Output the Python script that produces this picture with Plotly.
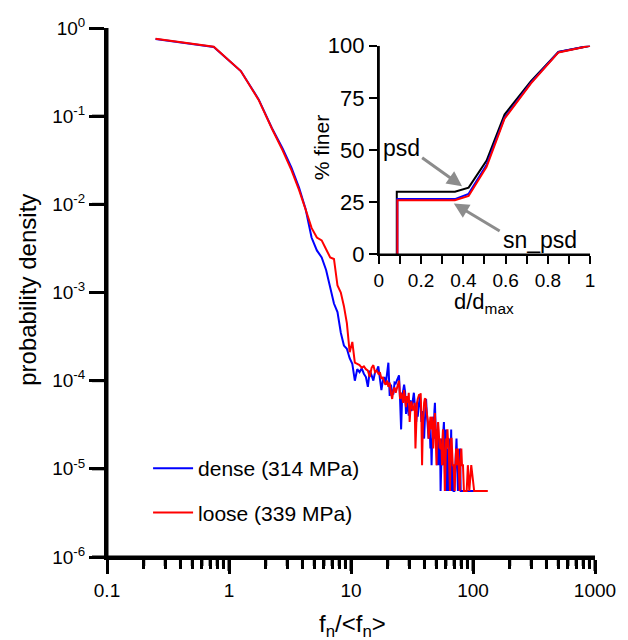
import plotly.graph_objects as go

# ---------------- main histogram data (probability density vs f_n/<f_n>) ----------------
dense_x = [0.25, 0.75, 1.25, 1.75, 2.25, 2.75, 3.25, 3.75, 4.25, 4.75, 5.25, 5.75, 6.25, 6.75,
           7.25, 7.75, 8.25, 8.75, 9.25, 9.75,
           10.25, 10.75, 11.25, 11.75, 12.25, 12.75, 13.25, 13.75, 14.25, 14.75, 15.25, 15.75,
           16.25, 16.75, 17.25, 17.75, 18.25, 18.75, 19.25, 19.75, 20.25, 20.75, 21.25, 21.75,
           22.25, 22.75, 23.25, 23.75, 24.25, 24.75, 25.25, 25.75, 26.25, 26.75, 27.25, 27.75,
           28.25, 28.75, 29.25, 29.75, 30.25, 30.75, 31.25, 31.75, 32.25, 32.75, 33.25, 33.75,
           34.25, 34.75, 35.25, 35.75, 36.25, 36.75, 37.25, 37.75, 38.25, 38.75, 39.25, 39.75,
           40.25, 40.75, 41.25, 41.75, 42.25, 42.75, 43.25, 43.75, 44.25, 44.75, 45.25, 45.75,
           46.25, 46.75, 47.25, 47.75, 48.25, 48.75, 49.25, 49.75, 50.25, 50.75, 51.25, 51.75,
           52.25, 52.75, 53.25, 53.75, 54.25, 54.75, 55.25, 55.75, 56.25, 56.75, 57.25, 57.75,
           58.25, 58.75, 59.25, 59.75, 60.25, 60.75, 61.25, 61.75, 62.25, 62.75, 63.25, 63.75,
           64.25, 64.75, 65.25, 65.75, 66.25, 66.75, 67.25, 68.25, 69.25, 70.25, 71.25, 72.25,
           73.25, 74.25, 75.25, 77.25, 78.25, 79.25, 81.25, 82.75, 86.25, 92.25, 101.25, 108.75,
           116.25]
dense_y = [0.75, 0.61, 0.325, 0.155, 0.073, 0.043, 0.026, 0.0155, 0.0088, 0.0042, 0.0030, 0.0025,
           0.0018, 0.0011, 0.00075, 0.0006, 0.00035, 0.00025, 0.00023, 0.00018,
           1.55e-4, 1.0e-4, 1.35e-4, 1.25e-4, 1.38e-4, 1.2e-4, 1.1e-4, 8.5e-5, 1.3e-4, 1.15e-4,
           1.0e-4, 1.25e-4, 1.3e-4, 1.45e-4, 1.1e-4, 7.8e-5, 1.0e-4, 1.1e-4, 9.0e-5, 1.35e-4,
           1.6e-4, 6.7e-5, 9.0e-5, 7.3e-5, 7.0e-5, 9.5e-5, 9.3e-5, 1.0e-4, 1.1e-4, 1.15e-4,
           6.0e-5, 2.8e-5, 6.5e-5, 8.0e-5, 9.0e-5, 7.5e-5, 4.2e-5, 6.0e-5, 5.0e-5, 4.0e-5,
           5.0e-5, 6.0e-5, 4.5e-5, 5.6e-5, 6.7e-5, 7.3e-5, 5.6e-5, 4.5e-5, 3.4e-5, 4.5e-5,
           3.9e-5, 5.0e-5, 6.2e-5, 6.7e-5, 5.0e-5, 3.4e-5, 4.5e-5, 3.9e-5, 2.8e-5, 2.2e-5,
           3.4e-5, 5.6e-5, 6.2e-5, 4.5e-5, 3.4e-5, 2.8e-5, 2.2e-5, 3.4e-5, 2.8e-5, 1.7e-5,
           2.2e-5, 1.1e-5, 1.7e-5, 3.9e-5, 2.8e-5, 2.2e-5, 4.5e-5, 5.6e-5, 3.4e-5, 1.7e-5,
           2.8e-5, 1.1e-5, 2.2e-5, 2.8e-5, 1.7e-5, 1.1e-5, 2.2e-5, 1.7e-5, 5.6e-6, 1.1e-5,
           1.7e-5, 2.2e-5, 1.7e-5, 1.1e-5, 2.8e-5, 3.4e-5, 2.2e-5, 1.1e-5, 5.6e-6, 1.7e-5,
           2.8e-5, 1.1e-5, 5.6e-6, 1.7e-5, 1.1e-5, 5.6e-6, 1.1e-5, 2.2e-5, 1.7e-5, 5.6e-6,
           1.1e-5, 2.2e-5, 2.8e-5, 1.1e-5, 5.6e-6, 1.1e-5, 5.6e-6, 5.6e-6, 1.1e-5, 1.7e-5,
           2.2e-5, 1.1e-5, 5.6e-6, 1.1e-5, 1.7e-5, 5.6e-6, 5.6e-6, 5.6e-6, 5.6e-6, 5.6e-6,
           5.6e-6, 5.6e-6, 5.6e-6]

loose_x = [0.25, 0.75, 1.25, 1.75, 2.25, 2.75, 3.25, 3.75, 4.25, 4.75, 5.25, 5.75, 6.25, 6.75,
           7.25, 7.75, 8.25, 8.75, 9.25, 9.75,
           10.25, 10.75, 11.25, 11.75, 12.25, 12.75, 13.25, 13.75, 14.25, 14.75, 15.25, 15.75,
           16.25, 16.75, 17.25, 17.75, 18.25, 18.75, 19.25, 19.75, 20.25, 20.75, 21.25, 21.75,
           22.25, 22.75, 23.25, 23.75, 24.25, 24.75, 25.25, 25.75, 26.25, 26.75, 27.25, 27.75,
           28.25, 28.75, 29.25, 29.75, 30.25, 30.75, 31.25, 31.75, 32.25, 32.75, 33.25, 33.75,
           34.25, 34.75, 35.25, 35.75, 36.25, 36.75, 37.25, 37.75, 38.25, 38.75, 39.25, 39.75,
           40.25, 40.75, 41.25, 41.75, 42.25, 42.75, 43.25, 43.75, 44.25, 44.75, 45.25, 45.75,
           46.25, 46.75, 47.25, 47.75, 48.25, 48.75, 49.25, 49.75, 50.25, 50.75, 51.25, 51.75,
           52.25, 52.75, 53.25, 53.75, 54.25, 55.25, 55.75, 56.25, 56.75, 57.25, 57.75, 58.25,
           58.75, 59.25, 59.75, 60.25, 60.75, 61.25, 61.75, 62.25, 62.75, 63.25, 63.75, 64.25,
           64.75, 65.25, 65.75, 66.25, 66.75, 67.25, 68.25, 69.25, 70.75, 71.75, 72.75, 73.25,
           74.25, 75.25, 76.25, 77.75, 78.75, 80.25, 81.25, 82.75, 84.25, 86.25, 88.75, 90.75,
           93.25, 96.75, 102.25, 110.25, 118.25, 132.25]
loose_y = [0.757, 0.614, 0.325, 0.153, 0.072, 0.041, 0.0245, 0.0146, 0.0087, 0.0054, 0.0042, 0.0039,
           0.0031, 0.0025, 0.0024, 0.0012, 0.001, 0.0007, 0.00045, 0.00021,
           2.75e-4, 1.6e-4, 1.55e-4, 1.5e-4, 1.4e-4, 1.45e-4, 1.35e-4, 1.3e-4, 1.1e-4, 1.4e-4,
           1.5e-4, 1.25e-4, 1.3e-4, 1.2e-4, 1.25e-4, 1.05e-4, 1.1e-4, 9.5e-5, 9.0e-5, 1.0e-4,
           8.5e-5, 9.5e-5, 7.3e-5, 6.2e-5, 7.8e-5, 8.4e-5, 7.3e-5, 8.0e-5, 9.0e-5, 1.0e-4,
           6.2e-5, 7.3e-5, 6.7e-5, 5.6e-5, 7.8e-5, 6.2e-5, 5.0e-5, 6.7e-5, 5.6e-5, 7.3e-5,
           3.4e-5, 5.0e-5, 5.8e-5, 5.0e-5, 4.6e-5, 5.0e-5, 5.6e-5, 1.7e-5, 4.5e-5, 5.6e-5,
           6.2e-5, 6.7e-5, 7.0e-5, 6.7e-5, 7.2e-5, 3.9e-5, 1.1e-5, 2.8e-5, 5.0e-5, 5.6e-5,
           6.2e-5, 6.3e-5, 5.0e-5, 4.5e-5, 3.9e-5, 3.4e-5, 2.2e-5, 2.8e-5, 3.4e-5, 3.9e-5,
           3.4e-5, 2.8e-5, 3.9e-5, 2.2e-5, 1.7e-5, 2.8e-5, 3.9e-5, 4.3e-5, 2.8e-5, 1.7e-5,
           1.1e-5, 2.2e-5, 2.8e-5, 3.4e-5, 2.8e-5, 2.2e-5, 1.7e-5, 2.2e-5, 1.7e-5, 1.7e-5,
           1.1e-5, 2.2e-5, 2.8e-5, 2.2e-5, 1.7e-5, 1.1e-5, 5.6e-6, 1.1e-5, 1.7e-5, 2.2e-5,
           1.7e-5, 2.2e-5, 2.8e-5, 2.2e-5, 2.2e-5, 1.7e-5, 1.1e-5, 5.6e-6, 5.6e-6, 1.1e-5,
           2.2e-5, 2.2e-5, 2.2e-5, 1.7e-5, 1.1e-5, 1.1e-5, 5.6e-6, 1.1e-5, 1.7e-5, 1.1e-5,
           1.7e-5, 1.7e-5, 1.1e-5, 5.6e-6, 1.1e-5, 1.7e-5, 1.1e-5, 1.1e-5, 5.6e-6, 5.6e-6,
           5.6e-6, 1.1e-5, 5.6e-6, 1.1e-5, 5.6e-6, 5.6e-6, 5.6e-6, 5.6e-6]

# ---------------- inset: particle size distributions ----------------
psd_x = [0.085, 0.085, 0.36, 0.425, 0.51, 0.595, 0.72, 0.85, 1.0]
psd_y = [0, 30, 30, 32, 45, 67, 83, 97, 100]
dense_psd_x = [0.088, 0.088, 0.36, 0.425, 0.51, 0.595, 0.72, 0.85, 1.0]
dense_psd_y = [0, 26.5, 26.5, 29, 43, 65.5, 82.3, 97, 100]
loose_psd_x = [0.088, 0.088, 0.36, 0.425, 0.51, 0.595, 0.72, 0.85, 1.0]
loose_psd_y = [0, 26, 26, 28, 42, 65, 82, 96.8, 100]

# ---------------- tick definitions ----------------
main_xticks = [0.1, 1, 10, 100, 1000]
main_xminor = [0.2, 0.3, 0.4, 0.5, 0.6, 0.7, 0.8, 0.9,
               2, 3, 4, 5, 6, 7, 8, 9,
               20, 30, 40, 50, 60, 70, 80, 90,
               200, 300, 400, 500, 600, 700, 800, 900]
main_yticks = [1, 0.1, 0.01, 0.001, 1e-4, 1e-5, 1e-6]
main_ylabels = {"1": "10<sup>0</sup>", "0.1": "10<sup>-1</sup>", "0.01": "10<sup>-2</sup>",
                "0.001": "10<sup>-3</sup>", "100\u03bc": "10<sup>-4</sup>",
                "10\u03bc": "10<sup>-5</sup>", "1\u03bc": "10<sup>-6</sup>"}
inset_xticks = [0, 0.2, 0.4, 0.6, 0.8, 1.0]
inset_xall = [0, 0.1, 0.2, 0.3, 0.4, 0.5, 0.6, 0.7, 0.8, 0.9, 1.0]
inset_yticks = [0, 25, 50, 75, 100]

FONT = "Liberation Sans, Arial, sans-serif"
BLUE = "#0000ff"
RED = "#ff0000"
GRAY = "#8c8c8c"

fig = go.Figure()
fig.add_trace(go.Scatter(x=dense_x, y=dense_y, mode="lines", name="dense (314 MPa)",
                         line=dict(color=BLUE, width=2), legendgroup="a"))
fig.add_trace(go.Scatter(x=loose_x, y=loose_y, mode="lines", name="loose (339 MPa)",
                         line=dict(color=RED, width=2), legendgroup="b"))

fig.add_trace(go.Scatter(x=psd_x, y=psd_y, mode="lines", xaxis="x2", yaxis="y2",
                         line=dict(color="black", width=2), showlegend=False))
fig.add_trace(go.Scatter(x=dense_psd_x, y=dense_psd_y, mode="lines", xaxis="x2", yaxis="y2",
                         line=dict(color=BLUE, width=2), showlegend=False))
fig.add_trace(go.Scatter(x=loose_psd_x, y=loose_psd_y, mode="lines", xaxis="x2", yaxis="y2",
                         line=dict(color=RED, width=2), showlegend=False))

fig.update_layout(
    width=628, height=640,
    margin=dict(l=107, r=22, t=28, b=83),
    paper_bgcolor="white", plot_bgcolor="white",
    font=dict(family=FONT, size=19, color="black"),
    showlegend=True,
    legend=dict(x=(149 - 107) / 499, y=(557 - 448) / 529, xanchor="left", yanchor="top",
                font=dict(size=21, family=FONT, color="black"), bgcolor="rgba(0,0,0,0)",
                traceorder="grouped", tracegroupgap=14, itemwidth=40),
    xaxis=dict(type="log", range=[-1, 3], tickmode="array", tickvals=main_xticks,
               ticks="outside", ticklen=14, tickwidth=3, tickcolor="black",
               showline=True, linewidth=3, linecolor="black", showgrid=False,
               tickfont=dict(size=19, color="black"),
               minor=dict(ticks="outside", ticklen=9, tickwidth=3, tickcolor="black",
                          tickvals=main_xminor, showgrid=False)),
    yaxis=dict(type="log", range=[-6, 0], tickmode="array", tickvals=main_yticks,
               labelalias=main_ylabels, ticks="outside", ticklen=15, tickwidth=3,
               tickcolor="black", showline=True, linewidth=3, linecolor="black",
               showgrid=False, tickfont=dict(size=19, color="black")),
    xaxis2=dict(domain=[0.557, 0.990], anchor="y2", range=[0, 1], tickmode="array",
                tickvals=inset_xticks, ticks="outside", ticklen=8, tickwidth=2,
                tickcolor="black", showline=True, linewidth=2, linecolor="black",
                showgrid=False, tickfont=dict(size=19, color="black"),
                minor=dict(ticks="outside", ticklen=8, tickwidth=2, tickcolor="black",
                           dtick=0.1, showgrid=False)),
    yaxis2=dict(domain=[0.572, 0.9665], anchor="x2", range=[0, 100], tickmode="array",
                tickvals=inset_yticks, ticks="outside", ticklen=8, tickwidth=2,
                tickcolor="black", showline=True, linewidth=2, linecolor="black",
                showgrid=False, tickfont=dict(size=22, color="black")),
)

# Axis lines and tick marks reinforced as layout shapes (placed through the axes' own scales)
BLK3 = dict(color="black", width=3)
BLK2 = dict(color="black", width=2)
shapes = [
    dict(type="line", xref="paper", yref="paper", x0=0, x1=1, y0=0, y1=0, line=BLK3,
         layer="above"),
    dict(type="line", xref="paper", yref="paper", x0=0, x1=0, y0=0, y1=1, line=BLK3,
         layer="above"),
    dict(type="line", xref="x2", yref="y2", x0=0, x1=1, y0=0, y1=0, line=BLK2, layer="above"),
    dict(type="line", xref="x2", yref="y2", x0=0, x1=0, y0=0, y1=100, line=BLK2, layer="above"),
]
for v in main_xticks:
    shapes.append(dict(type="line", xref="x", yref="paper", ysizemode="pixel", yanchor=0,
                       x0=v, x1=v, y0=0, y1=-14, line=BLK3, layer="above"))
for v in main_xminor:
    shapes.append(dict(type="line", xref="x", yref="paper", ysizemode="pixel", yanchor=0,
                       x0=v, x1=v, y0=0, y1=-9, line=BLK3, layer="above"))
for v in main_yticks:
    shapes.append(dict(type="line", xref="paper", yref="y", xsizemode="pixel", xanchor=0,
                       x0=0, x1=-15, y0=v, y1=v, line=BLK3, layer="above"))
for v in inset_xall:
    shapes.append(dict(type="line", xref="x2", yref="y2", ysizemode="pixel", yanchor=0,
                       x0=v, x1=v, y0=0, y1=-8, line=BLK2, layer="above"))
for v in inset_yticks:
    shapes.append(dict(type="line", xref="x2", yref="y2", xsizemode="pixel", xanchor=0,
                       x0=0, x1=-8, y0=v, y1=v, line=BLK2, layer="above"))

annotations = [
    dict(text="probability density", xref="paper", yref="paper", x=(25 - 107) / 499,
         y=(557 - 290) / 529, textangle=-90, showarrow=False, font=dict(size=24),
         xanchor="center", yanchor="middle"),
    dict(text="f<sub>n</sub>/&lt;f<sub>n</sub>&gt;", xref="paper", yref="paper",
         x=(358 - 107) / 499, y=(557 - 625) / 529, showarrow=False, font=dict(size=24),
         xanchor="center", yanchor="middle"),
    dict(text="% finer", xref="paper", yref="paper", x=(327 - 107) / 499,
         y=(557 - 148) / 529, textangle=-90, showarrow=False, font=dict(size=21),
         xanchor="center", yanchor="middle"),
    dict(text="d/d<sub>max</sub>", xref="paper", yref="paper", x=(492 - 107) / 499,
         y=(557 - 303) / 529, showarrow=False, font=dict(size=22),
         xanchor="center", yanchor="middle"),
    dict(text="psd", xref="x2", yref="y2", x=0.108, y=51.2, showarrow=False,
         font=dict(size=23), xanchor="center", yanchor="middle"),
    dict(text="sn_psd", xref="x2", yref="y2", x=0.762, y=7.0, showarrow=False,
         font=dict(size=23), xanchor="center", yanchor="middle"),
    dict(text="", xref="x2", yref="y2", x=0.394, y=32.7, axref="x2", ayref="y2",
         ax=0.198, ay=46.8, showarrow=True, arrowhead=2, arrowsize=1, arrowwidth=3,
         arrowcolor=GRAY),
    dict(text="", xref="x2", yref="y2", x=0.355, y=24.4, axref="x2", ayref="y2",
         ax=0.579, ay=10.8, showarrow=True, arrowhead=2, arrowsize=1, arrowwidth=3,
         arrowcolor=GRAY),
]
fig.update_layout(annotations=annotations, shapes=shapes)

fig.write_html("out.html", config={"staticPlot": True})
